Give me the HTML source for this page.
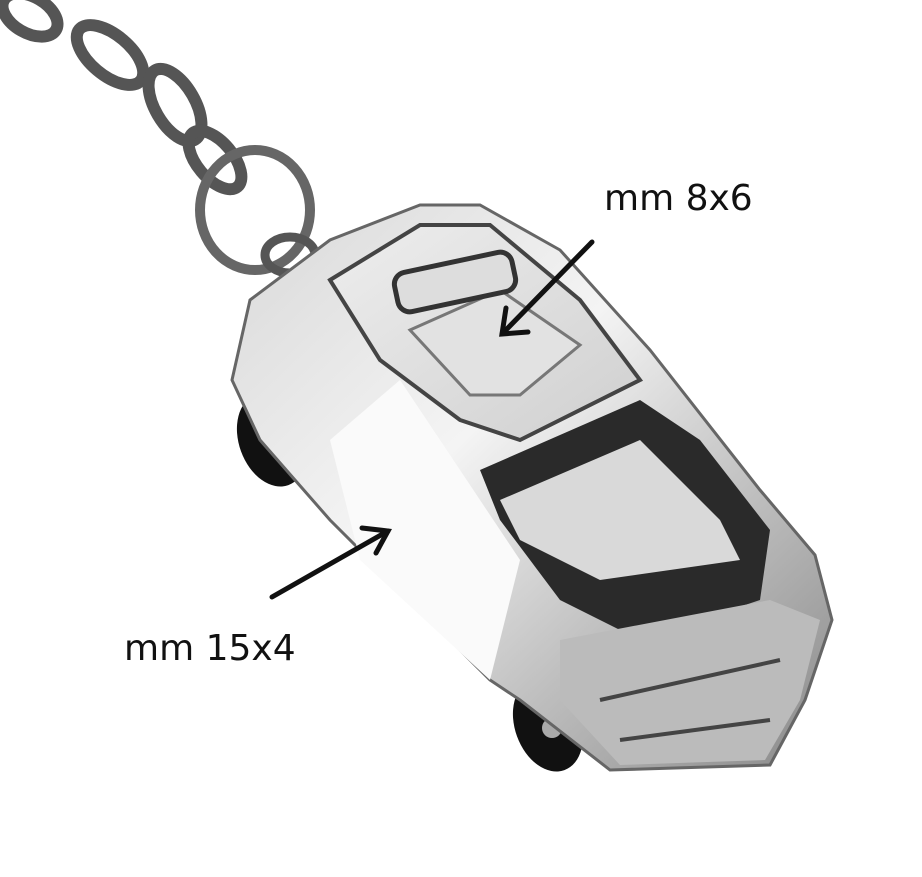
<!DOCTYPE html>
<html><head><meta charset="utf-8"><style>
html,body{margin:0;padding:0;background:#fff;}
svg{display:block;}
text{font-family:"DejaVu Sans","Liberation Sans",sans-serif;fill:#111;}
</style></head><body>
<svg width="922" height="877" viewBox="0 0 922 877" xmlns="http://www.w3.org/2000/svg">
<defs>
<linearGradient id="body" x1="0" y1="0" x2="1" y2="1">
<stop offset="0" stop-color="#d8d8d8"/><stop offset="0.4" stop-color="#f4f4f4"/><stop offset="0.7" stop-color="#bdbdbd"/><stop offset="1" stop-color="#888"/>
</linearGradient>
<linearGradient id="roof" x1="0" y1="0" x2="1" y2="1">
<stop offset="0" stop-color="#eee"/><stop offset="1" stop-color="#cfcfcf"/>
</linearGradient>
</defs>
<!-- chain -->
<g fill="none" stroke="#555" stroke-width="12">
<ellipse cx="30" cy="15" rx="30" ry="18" transform="rotate(30 30 15)"/>
<ellipse cx="110" cy="55" rx="40" ry="20" transform="rotate(40 110 55)"/>
<ellipse cx="175" cy="105" rx="40" ry="20" transform="rotate(60 175 105)"/>
<ellipse cx="215" cy="160" rx="35" ry="18" transform="rotate(50 215 160)"/>
<ellipse cx="255" cy="210" rx="55" ry="60" stroke-width="10" stroke="#666"/>
<ellipse cx="290" cy="255" rx="25" ry="18" stroke-width="9" stroke="#555"/>
</g>
<!-- wheels -->
<ellipse cx="272" cy="440" rx="33" ry="48" fill="#111" transform="rotate(-20 272 440)"/>
<circle cx="276" cy="440" r="10" fill="#999"/>
<ellipse cx="548" cy="725" rx="33" ry="48" fill="#111" transform="rotate(-20 548 725)"/>
<circle cx="552" cy="728" r="10" fill="#aaa"/>
<!-- body -->
<path d="M250 300 L330 240 L420 205 L480 205 L560 250 L650 350 L760 490 L815 555 L832 620 L805 700 L770 765 L610 770 L520 700 L490 680 L330 520 L260 440 L232 380 Z" fill="url(#body)" stroke="#666" stroke-width="3"/>
<!-- white side panel -->
<path d="M330 440 L400 380 L520 560 L490 680 L360 560 Z" fill="#fafafa"/>
<!-- roof -->
<path d="M330 280 L420 225 L490 225 L580 300 L640 380 L520 440 L460 420 L380 360 Z" fill="url(#roof)" stroke="#444" stroke-width="4"/>
<path d="M410 330 L500 290 L580 345 L520 395 L470 395 Z" fill="#e2e2e2" stroke="#777" stroke-width="3"/>
<rect x="395" y="262" width="120" height="40" rx="12" fill="#ddd" stroke="#333" stroke-width="5" transform="rotate(-12 455 282)"/>
<!-- windshield -->
<path d="M480 470 L640 400 L700 440 L770 530 L760 600 L640 640 L560 600 L500 520 Z" fill="#2a2a2a"/>
<path d="M500 500 L640 440 L720 520 L740 560 L600 580 L520 540 Z" fill="#d9d9d9"/>
<!-- hood / front -->
<path d="M560 640 L770 600 L820 620 L800 700 L765 760 L620 765 L560 700 Z" fill="#bbb"/>
<path d="M600 700 L780 660 M620 740 L770 720" stroke="#444" stroke-width="4" fill="none"/>
<!-- arrows -->
<g stroke="#111" stroke-width="5" fill="none" stroke-linecap="round">
<line x1="592" y1="242" x2="502" y2="334"/>
<polyline points="506,308 502,334 528,332"/>
<line x1="272" y1="597" x2="388" y2="531"/>
<polyline points="362,528 388,531 376,553"/>
</g>
<text x="604" y="210" font-size="36">mm 8x6</text>
<text x="124" y="660" font-size="36">mm 15x4</text>
</svg>
</body></html>
